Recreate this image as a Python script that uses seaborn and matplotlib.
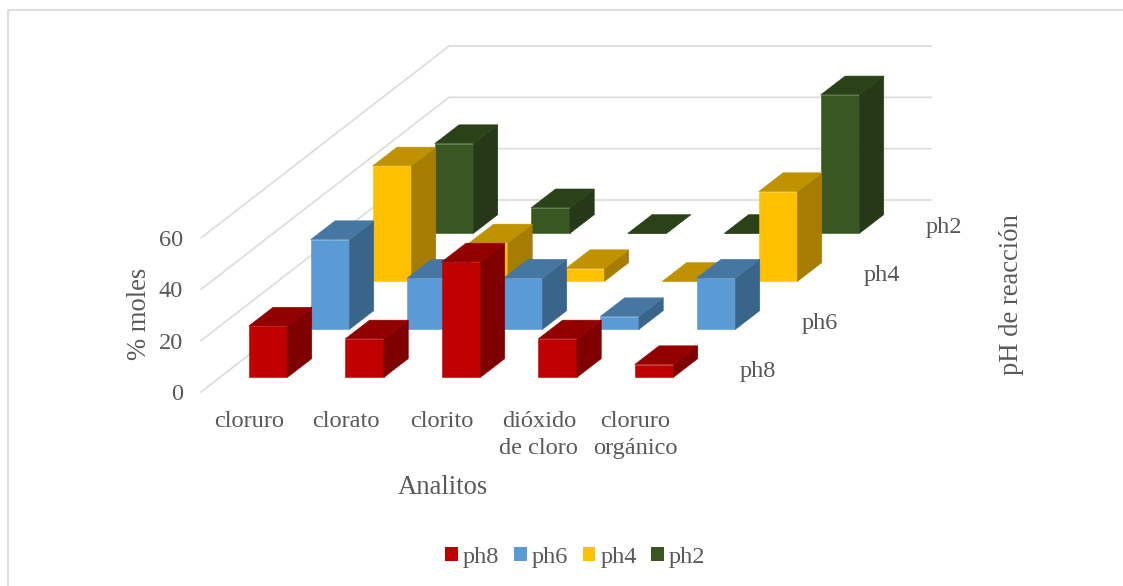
import matplotlib
matplotlib.use("Agg")
import matplotlib.pyplot as plt
import numpy as np
import pandas as pd
import seaborn as sns
from matplotlib.lines import Line2D
from matplotlib.patches import Patch, Polygon

# Measured analytes, % moles for each reaction pH
analitos = ["cloruro", "clorato", "clorito", "dióxido\nde cloro", "cloruro\norgánico"]
ph8 = [20, 15, 45, 15, 5]
ph6 = [35, 20, 20, 5, 20]
ph4 = [45, 15, 5, 0, 35]
ph2 = [35, 10, 0, 0, 54]
series_names = ["ph8", "ph6", "ph4", "ph2"]
series_values = [ph8, ph6, ph4, ph2]
z_ticks = [0, 20, 40, 60]

# front, top and side shades of each series
front_colors = ["#C00000", "#5B9BD5", "#FFC000", "#385723"]
top_colors = ["#930000", "#4677A3", "#C19200", "#2B4219"]
side_colors = ["#7F0000", "#3A658B", "#A67D00", "#253817"]

W, H = 1123, 586
CAT_STEP = 96.5       # pixels between analytes
Z_SCALE = 154 / 60    # pixels per % mole
ROW_DX, ROW_DY = 62, 48     # oblique shift between pH rows
BAR_W = 38.7
BAR_DX, BAR_DY = 24.3, 18.7  # oblique depth of a bar
FLOOR_X, FLOOR_Y = 201, 392  # front left corner of the floor
GRID = "#DEDEDE"
TEXT = "#595959"
FS = 17.6
FS_TITLE = 19.2

sns.set_theme(style="white")
plt.rcParams["font.family"] = ["Liberation Serif", "DejaVu Serif"]

fig = plt.figure(figsize=(W / 100, H / 100), dpi=100)


def plane_axes(left_px, base_px):
    """Axes spanning one vertical plane of the oblique box, in pixel placement."""
    width = CAT_STEP * len(analitos)
    height = Z_SCALE * 60
    ax = fig.add_axes([left_px / W, 1 - base_px / H, width / W, height / H])
    ax.set_xlim(-0.5, len(analitos) - 0.5)
    ax.set_ylim(0, 60)
    ax.patch.set_alpha(0)
    return ax


# outer chart frame: top and left edges
fig.add_artist(Line2D([8 / W, 8 / W, 1], [0, 1 - 10 / H, 1 - 10 / H], color=GRID, lw=1.5))

# Walls: gridlines run back along the side wall, then across the rear wall
base = plane_axes(FLOOR_X, FLOOR_Y)
back_x = 4 * ROW_DX / CAT_STEP
back_z = 4 * ROW_DY / Z_SCALE
x_left = -0.5
x_right = len(analitos) - 0.5
for z in z_ticks:
    base.plot([x_left, x_left + back_x, x_right + back_x],
              [z, z + back_z, z + back_z],
              color=GRID, lw=1.3, clip_on=False, solid_joinstyle="miter")
sns.despine(ax=base, left=True, bottom=True, top=True, right=True)
base.set_yticks(z_ticks)
base.set_yticklabels([str(z) for z in z_ticks], fontsize=FS, color=TEXT)
base.set_xticks(range(len(analitos)))
base.set_xticklabels(analitos, fontsize=FS, color=TEXT, linespacing=1.38)
base.tick_params(axis="y", length=0, pad=13)
base.tick_params(axis="x", length=0, pad=13.5)
base.grid(False)

# Rows are painted from the rear one forward so nearer bars hide farther ones
margin_x = (ROW_DX - BAR_DX) / 2
margin_y = (ROW_DY - BAR_DY) / 2
dx = BAR_DX / CAT_STEP
dz = BAR_DY / Z_SCALE
for row in reversed(range(len(series_names))):
    ax = plane_axes(FLOOR_X + margin_x + row * ROW_DX,
                    FLOOR_Y - margin_y - row * ROW_DY)
    table = pd.DataFrame({"analito": analitos, "valor": series_values[row]})
    sns.barplot(data=table, x="analito", y="valor", ax=ax,
                color=front_colors[row], saturation=1,
                width=BAR_W / CAT_STEP, edgecolor=front_colors[row], linewidth=0.4)
    ax.set_xlim(-0.5, len(analitos) - 0.5)
    ax.set_ylim(0, 60)
    ax.set_axis_off()
    for bar in list(ax.patches):
        x0 = bar.get_x()
        x1 = x0 + bar.get_width()
        z1 = bar.get_height()
        ax.add_patch(Polygon([(x1, 0), (x1 + dx, dz), (x1 + dx, z1 + dz), (x1, z1)],
                             closed=True, fc=side_colors[row], ec=side_colors[row],
                             lw=0.4, clip_on=False))
        ax.add_patch(Polygon([(x0, z1), (x1, z1), (x1 + dx, z1 + dz), (x0 + dx, z1 + dz)],
                             closed=True, fc=top_colors[row], ec=top_colors[row],
                             lw=0.4, clip_on=False))
        bar.set_clip_on(False)


def label(x_px, y_px, text, size=FS, rotation=0):
    fig.text(x_px / W, 1 - y_px / H, text, ha="center", va="center",
             fontsize=size, color=TEXT, rotation=rotation)


# Depth axis labels
for row, name in enumerate(series_names):
    label(758 + row * ROW_DX, 371 - row * ROW_DY, name)

label(443, 488, "Analitos", size=FS_TITLE)
label(139.5, 314, "% moles", size=FS_TITLE, rotation=90)
label(1011, 295, "pH de reacción", size=FS_TITLE, rotation=90)

handles = [Patch(facecolor=c, edgecolor="none", label=n)
           for c, n in zip(front_colors, series_names)]
fig.legend(handles=handles, loc="center", bbox_to_anchor=(575.5 / W, 1 - 557 / H), ncol=4,
           frameon=False, fontsize=FS, labelcolor=TEXT, handlelength=0.52, handleheight=0.52,
           handletextpad=0.2, columnspacing=0.6, borderpad=0)

fig.savefig("out.png", dpi=100, facecolor="white")
